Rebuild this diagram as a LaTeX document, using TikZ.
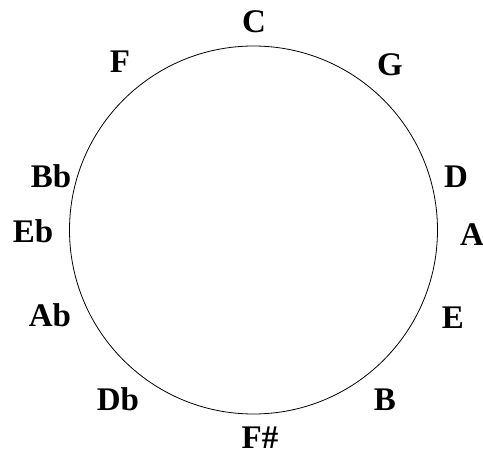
\documentclass[tikz,border=0pt]{standalone}
\usepackage{fontspec}
\setmainfont{Liberation Serif}
\tikzset{%
  note/.style={font=\bfseries\fontsize{33}{34}\selectfont, inner sep=0pt},
}

\begin{document}
\begin{tikzpicture}[x=1pt, y=-1pt]

% Fix the page size to the reference
\useasboundingbox (0,0) rectangle (483,458);

% The circle
\coordinate (O) at (253.5,230);
\draw[line width=0.8pt] (O) circle[radius=184];

% The twelve keys round the circle
\foreach \name/\txt/\x/\y in {C/C/254/22, G/G/390/65, D/D/456/177,
    A/A/472/235, E/E/453/318, B/B/385/400, Fs/F\#/260/438,
    Db/Db/118/399, Ab/Ab/50/315, Eb/Eb/33/231, Bb/Bb/51/176, F/F/120/62}
  \node[note] (\name) at (\x,\y) {\txt};

\end{tikzpicture}
\end{document}
